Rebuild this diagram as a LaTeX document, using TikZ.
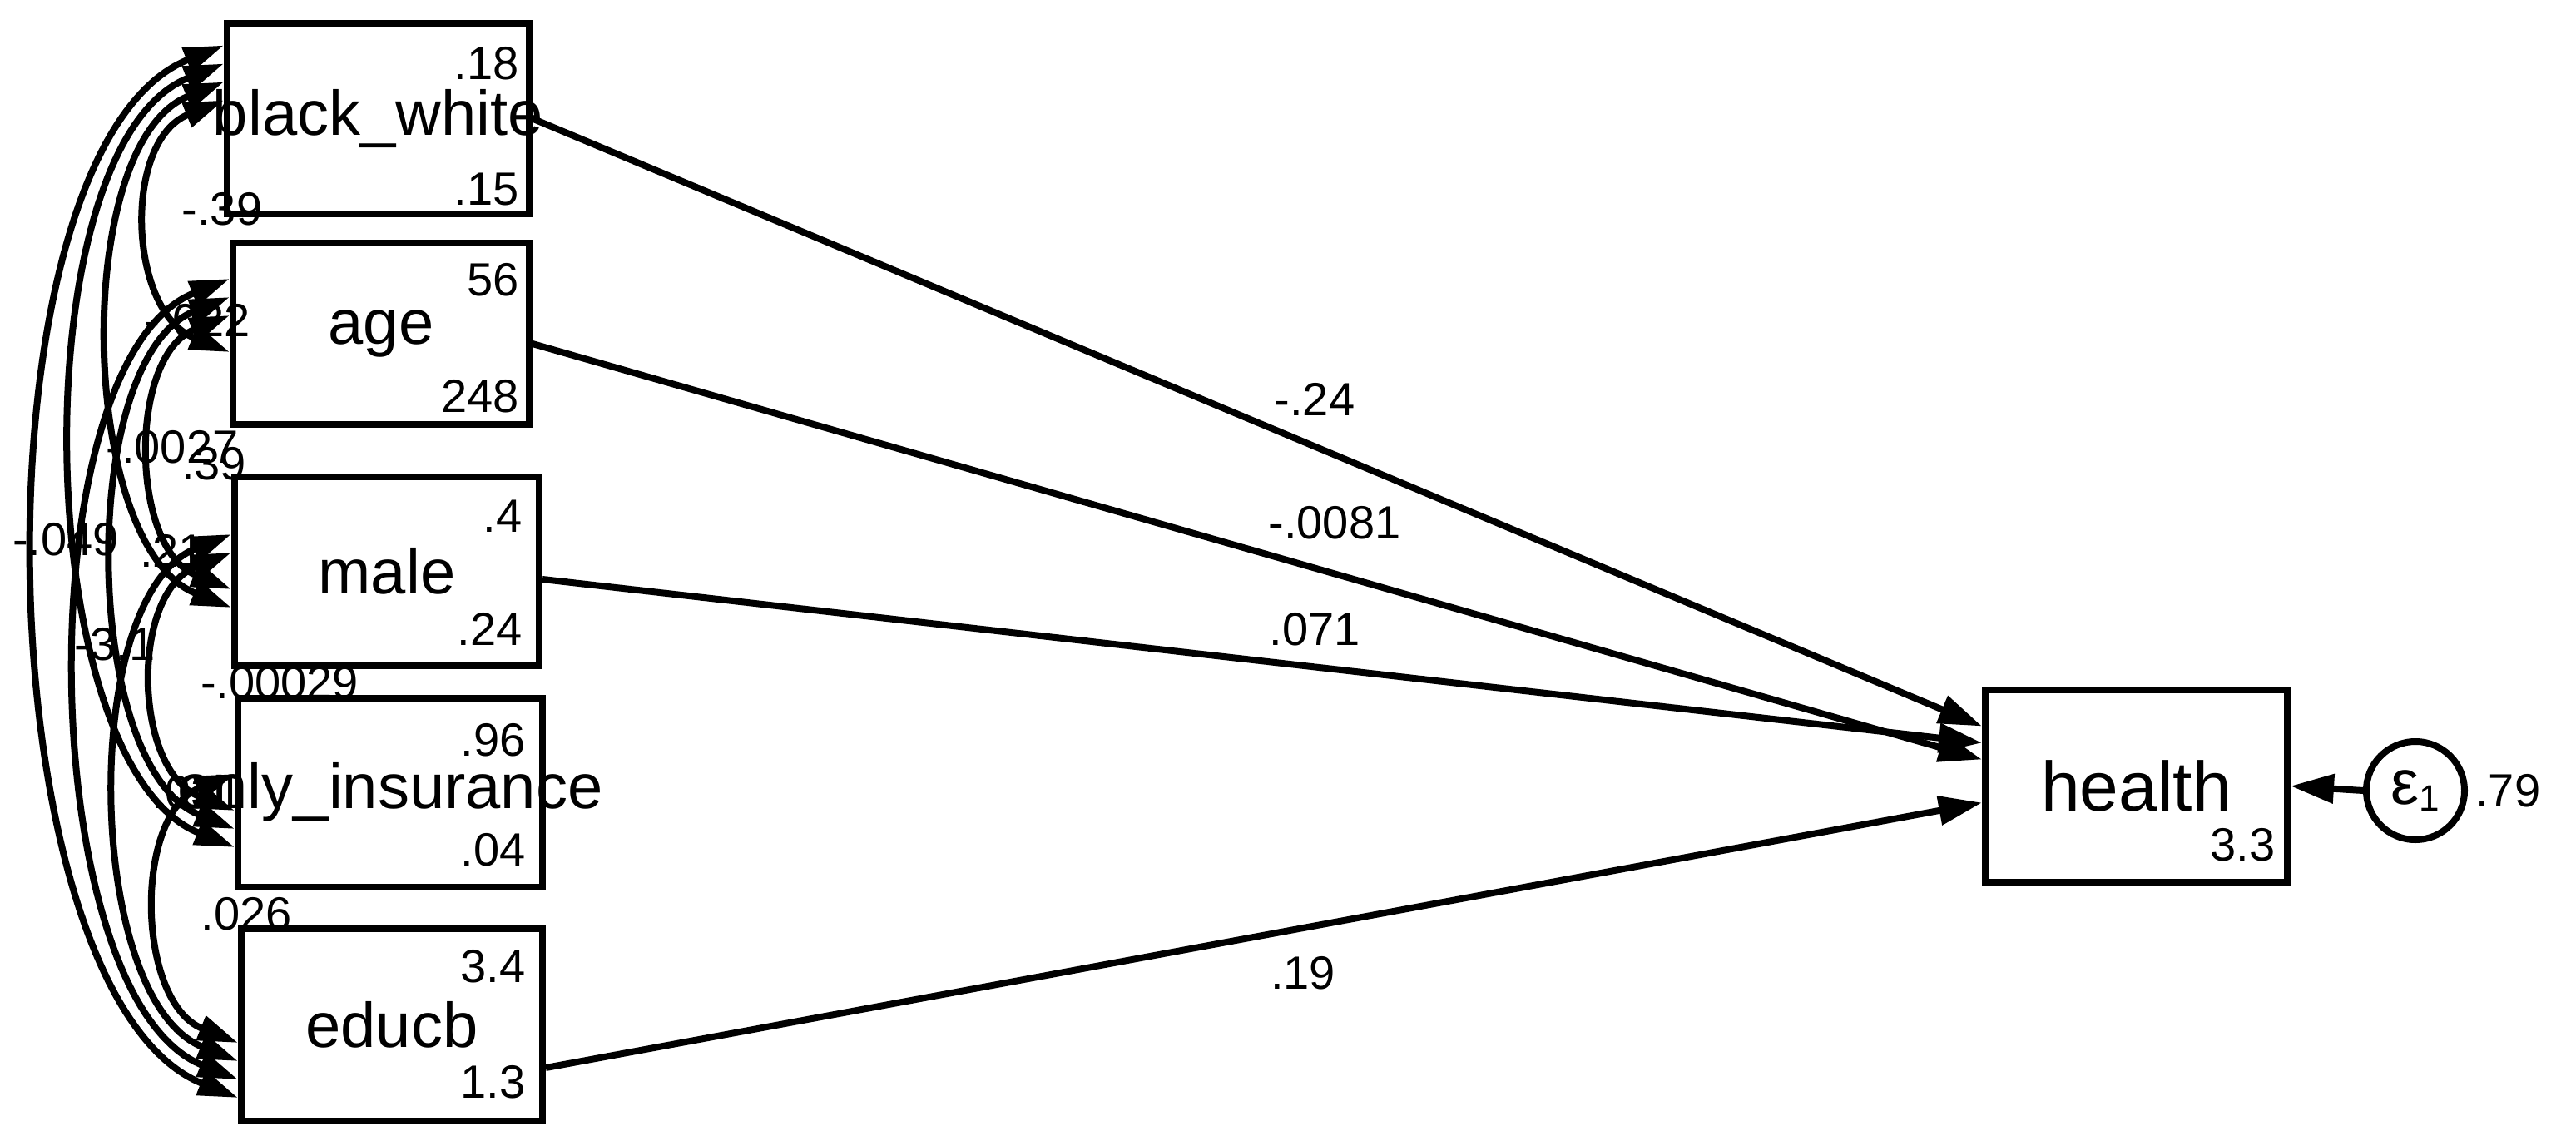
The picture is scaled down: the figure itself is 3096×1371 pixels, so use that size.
\documentclass[tikz,border=0pt]{standalone}
\usepackage{fontspec}
\setmainfont{Liberation Sans}
\usetikzlibrary{arrows.meta}
\begin{document}
\begin{tikzpicture}[x=0.5pt,y=-0.5pt,
  box/.style={draw,line width=4pt,inner sep=0,font=\fontsize{38}{40}\selectfont},
  num/.style={font=\fontsize{28}{30}\selectfont,inner sep=0},
  path/.style={line width=4pt,-{Triangle[length=26pt,width=17pt]}},
  cov/.style={line width=4pt,{Triangle[length=24pt,width=15pt]}-{Triangle[length=24pt,width=15pt]}}]
\useasboundingbox (0,0) rectangle (3096,1371);
\node[box,minimum width=181.5pt,minimum height=114.5pt] (n0) at (454.5,142.5) {\makebox[0pt]{black\_white}};
\node[box,minimum width=178pt,minimum height=109pt] (n1) at (458,401) {\makebox[0pt]{age}};
\node[box,minimum width=183pt,minimum height=113.5pt] (n2) at (465,686) {\makebox[0pt]{male}};
\node[box,minimum width=183pt,minimum height=113.5pt] (n3) at (469,952) {\makebox[0pt]{only\_insurance}};
\node[box,minimum width=181pt,minimum height=115.5pt] (n4) at (471,1231) {\makebox[0pt]{educb}};
\node[box,minimum width=181.5pt,minimum height=115.5pt] (h) at (2567.5,944.5) {\fontsize{42}{44}\selectfont health};
\node[draw,circle,line width=4pt,minimum size=59pt,inner sep=0,font=\fontsize{38}{40}\selectfont] (e) at (2903,950) {ε\raisebox{-4pt}{\fontsize{22}{24}\selectfont 1}};
\node[num,anchor=west] (ev) at (2975,950) {.79};
% box numbers
\node[num,anchor=east] (a1) at (624,76) {.18};
\node[num,anchor=east] (a2) at (624,228) {.15};
\node[num,anchor=east] (b1) at (624,336) {56};
\node[num,anchor=east] (b2) at (624,476) {248};
\node[num,anchor=east] (c1) at (628,620) {.4};
\node[num,anchor=east] (c2) at (628,756) {.24};
\node[num,anchor=east] (d1) at (632,889) {.96};
\node[num,anchor=east] (d2) at (632,1021) {.04};
\node[num,anchor=east] (f1) at (632,1161) {3.4};
\node[num,anchor=east] (f2) at (632,1300) {1.3};
\node[num,anchor=east] (g1) at (2735,1015) {3.3};
% paths
\draw[path] ([yshift=0pt]n0.east) -- ([yshift=36pt]h.west);
\draw[path] ([yshift=-6pt]n1.east) -- ([yshift=16pt]h.west);
\draw[path] ([yshift=-5pt]n2.east) -- ([yshift=26pt]h.west);
\draw[path] ([yshift=-26pt]n4.east) -- ([yshift=-10pt]h.west);
\draw[path] (e.west) -- (h.east);
\node[num] (p1) at (1580,480) {-.24};
\node[num] (p2) at (1604,628) {-.0081};
\node[num] (p3) at (1580,756) {.071};
\node[num] (p4) at (1566,1169) {.19};
% covariances
\foreach \i in {0,...,3}{
  \pgfmathtruncatemacro{\s}{\i+1}
  \foreach \j in {\s,...,4}{
    \pgfmathsetmacro{\oi}{11*(\j-\i)}
    \pgfmathsetmacro{\oj}{11*(\i-\j)}
    \pgfmathsetmacro{\b}{60+62*(\j-\i)}
    \pgfmathsetmacro{\c}{0.4*\b}
    \draw[cov] ([yshift=\oi pt]n\i.west) .. controls +(-\b,\c) and +(-\b,-\c) .. ([yshift=\oj pt]n\j.west);
  }
}
\node[num] (q1) at (267,251) {-.39};
\node[num] (q2) at (237,385) {-.022};
\node[num] (q3) at (207,537) {-.0027};
\node[num] (q4) at (257,557) {.39};
\node[num] (q5) at (79,648) {-.049};
\node[num] (q6) at (207,662) {.21};
\node[num] (q7) at (138,774) {-3.1};
\node[num] (q8) at (336,820) {-.00029};
\node[num] (q9) at (237,952) {.031};
\node[num] (q10) at (296,1098) {.026};
\end{tikzpicture}
\end{document}
